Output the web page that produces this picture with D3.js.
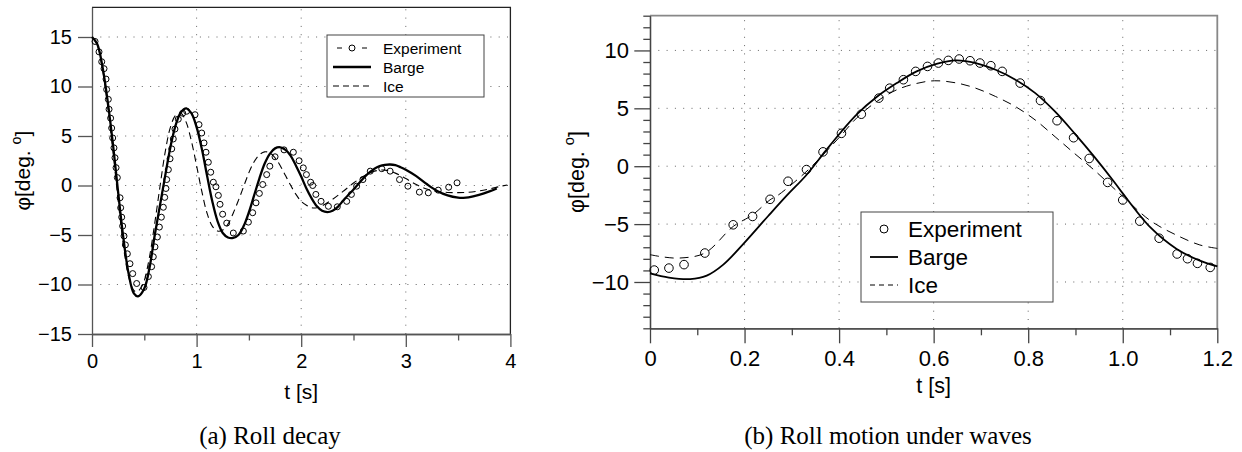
<!DOCTYPE html>
<html>
<head>
<meta charset="utf-8">
<script src="https://cdn.jsdelivr.net/npm/d3@7"></script>
<style>
  html, body { margin: 0; padding: 0; background: #fff; }
  svg { display: block; }
  text { font-family: "Liberation Sans", Arial, Helvetica, sans-serif; fill: #000; }
  .cap { font-family: "Liberation Serif", "Times New Roman", serif; }
</style>
</head>
<body>
<svg id="fig" width="1242" height="452"></svg>
<script>
// ---------------- DATA ----------------
// (a) Roll decay
const decayXTicks = [0, 1, 2, 3, 4];
const decayXMinor = [0.5, 1.5, 2.5, 3.5];
const decayYTicks = [-15, -10, -5, 0, 5, 10, 15];
const decayExperiment = [
  [0.029,14.55],[0.067,13.5],[0.093,12.5],[0.115,11.8],[0.134,10.75],[0.140,9.7],[0.156,8.7],[0.163,7.7],
  [0.178,6.8],[0.188,5.8],[0.198,4.8],[0.210,3.8],[0.220,2.8],[0.230,1.8],[0.242,0.8],[0.268,-1.24],
  [0.274,-2.25],[0.284,-3.2],[0.293,-4.1],[0.306,-5.1],[0.319,-6.0],[0.338,-6.9],[0.363,-7.9],[0.389,-8.9],
  [0.427,-9.9],[0.497,-10.3],[0.539,-9.2],[0.570,-8.2],[0.586,-7.2],[0.602,-6.2],[0.625,-5.2],[0.644,-4.2],
  [0.663,-3.2],[0.682,-2.2],[0.695,-1.2],[0.707,-0.3],[0.714,0.6],[0.730,1.6],[0.746,2.7],[0.762,3.7],
  [0.777,4.7],[0.793,5.7],[0.825,6.7],[0.867,7.3],[0.905,7.5],[0.985,7.15],[1.023,6.15],[1.049,5.3],
  [1.071,4.3],[1.090,3.36],[1.112,2.35],[1.135,1.34],[1.160,0.33],[1.185,-0.13],[1.208,-1.0],[1.224,-1.9],
  [1.249,-2.9],[1.288,-3.8],[1.351,-4.8],[1.447,-4.6],[1.495,-3.7],[1.536,-2.75],[1.568,-1.75],[1.600,-0.8],
  [1.632,0.1],[1.670,1.1],[1.700,1.95],[1.750,2.9],[1.836,3.6],[1.925,3.36],[1.980,2.5],[2.020,1.78],
  [2.050,1.1],[2.090,0.33],[2.110,0.0],[2.140,-0.9],[2.190,-1.6],[2.260,-2.1],[2.345,-2.15],[2.435,-1.6],
  [2.480,-0.9],[2.530,-0.07],[2.590,0.6],[2.660,1.45],[2.770,1.7],[2.850,1.45],[2.940,0.6],[3.020,-0.07],
  [3.130,-0.67],[3.215,-0.74],[3.310,-0.47],[3.410,-0.17],[3.490,0.27]
];
const decayBarge = [
  [0,15],[0.05,14.3],[0.1,12.0],[0.15,8.5],[0.2,4.2],[0.25,-0.7],[0.3,-5.3],[0.35,-8.9],[0.4,-10.9],
  [0.44,-11.2],[0.5,-10.4],[0.55,-8.3],[0.6,-5.0],[0.65,-2.0],[0.7,1.0],[0.75,3.9],[0.8,6.1],[0.85,7.4],
  [0.9,7.8],[0.95,7.3],[1.0,5.9],[1.05,3.7],[1.1,1.0],[1.15,-1.6],[1.2,-3.6],[1.25,-4.8],[1.3,-5.25],
  [1.35,-5.3],[1.4,-5.0],[1.45,-4.1],[1.5,-2.7],[1.55,-1.0],[1.6,0.7],[1.65,2.2],[1.7,3.2],[1.75,3.75],
  [1.8,3.86],[1.85,3.6],[1.9,3.0],[1.95,2.0],[2.0,0.9],[2.05,-0.3],[2.1,-1.3],[2.15,-2.1],[2.2,-2.55],
  [2.25,-2.68],[2.3,-2.55],[2.35,-2.15],[2.4,-1.55],[2.45,-0.95],[2.5,-0.4],[2.55,0.2],[2.6,0.8],
  [2.65,1.3],[2.7,1.7],[2.75,1.95],[2.8,2.08],[2.85,2.12],[2.9,2.05],[2.95,1.85],[3.0,1.6],[3.1,0.95],
  [3.2,0.15],[3.3,-0.55],[3.4,-1.0],[3.5,-1.23],[3.55,-1.25],[3.6,-1.2],[3.7,-0.95],[3.8,-0.6],[3.87,-0.3]
];
const decayIce = [
  [0,15],[0.05,14.2],[0.1,11.8],[0.15,8.0],[0.2,3.5],[0.25,-1.5],[0.3,-6.0],[0.35,-9.2],[0.4,-10.6],
  [0.43,-10.75],[0.47,-10.3],[0.5,-9.6],[0.55,-7.2],[0.6,-3.8],[0.65,-0.1],[0.7,3.4],[0.75,5.9],[0.8,7.1],
  [0.85,7.3],[0.9,6.4],[0.95,4.5],[1.0,2.0],[1.05,-0.6],[1.1,-2.8],[1.15,-4.1],[1.2,-4.6],[1.25,-4.5],
  [1.3,-3.9],[1.35,-2.8],[1.4,-1.5],[1.45,-0.1],[1.5,1.3],[1.55,2.4],[1.6,3.1],[1.65,3.4],[1.7,3.3],
  [1.75,2.8],[1.8,2.0],[1.85,1.0],[1.9,0.0],[1.95,-0.9],[2.0,-1.6],[2.05,-2.0],[2.1,-2.25],[2.15,-2.25],
  [2.2,-2.05],[2.3,-1.4],[2.4,-0.6],[2.5,0.25],[2.6,0.95],[2.7,1.45],[2.8,1.55],[2.9,1.25],[3.0,0.7],
  [3.1,0.1],[3.2,-0.35],[3.3,-0.6],[3.4,-0.7],[3.5,-0.72],[3.6,-0.68],[3.7,-0.55],[3.8,-0.35],[3.9,-0.1],[3.97,0.05]
];

// (b) Roll motion under waves
const wavesXTicks = [0, 0.2, 0.4, 0.6, 0.8, 1.0, 1.2];
const wavesXTickLabels = ["0", "0.2", "0.4", "0.6", "0.8", "1.0", "1.2"];
const wavesXMinor = [0.1, 0.3, 0.5, 0.7, 0.9, 1.1];
const wavesYTicks = [-10, -5, 0, 5, 10];
const wavesYMinor = [-14,-13,-12,-11,-9,-8,-7,-6,-4,-3,-2,-1,1,2,3,4,6,7,8,9,11,12,13];
const wavesExperiment = [
  [0.009,-8.97],[0.04,-8.8],[0.072,-8.5],[0.116,-7.5],[0.176,-5.06],[0.217,-4.34],[0.254,-2.86],
  [0.292,-1.3],[0.331,-0.29],[0.366,1.24],[0.405,2.84],[0.447,4.49],[0.484,5.88],[0.507,6.74],
  [0.536,7.47],[0.562,8.19],[0.587,8.62],[0.61,8.91],[0.631,9.14],[0.654,9.26],[0.677,9.11],
  [0.698,8.91],[0.721,8.68],[0.745,8.19],[0.783,7.18],[0.826,5.67],[0.861,3.93],[0.896,2.46],
  [0.929,0.67],[0.968,-1.4],[1.0,-2.92],[1.036,-4.75],[1.077,-6.22],[1.115,-7.58],[1.137,-7.99],
  [1.158,-8.39],[1.185,-8.74]
];
const wavesBarge = [
  [0,-9.26],[0.04,-9.62],[0.085,-9.75],[0.12,-9.45],[0.155,-8.5],[0.2,-6.6],[0.25,-4.3],[0.29,-2.5],
  [0.33,-0.8],[0.371,1.3],[0.405,3.0],[0.438,4.5],[0.48,6.0],[0.522,7.18],[0.564,8.19],[0.606,8.83],
  [0.647,9.14],[0.689,8.91],[0.731,8.33],[0.773,7.47],[0.815,6.31],[0.857,4.71],[0.898,2.84],
  [0.94,0.81],[0.982,-1.36],[1.0,-2.35],[1.058,-5.27],[1.114,-7.15],[1.163,-8.16],[1.2,-8.65]
];
const wavesIce = [
  [0,-7.64],[0.03,-7.85],[0.063,-7.93],[0.116,-7.5],[0.176,-5.2],[0.217,-4.2],[0.254,-2.9],[0.271,-2.5],
  [0.33,-0.49],[0.371,1.2],[0.405,2.7],[0.438,4.2],[0.48,5.6],[0.522,6.6],[0.564,7.15],[0.602,7.38],
  [0.647,7.2],[0.689,6.74],[0.731,6.02],[0.773,5.15],[0.815,3.99],[0.857,2.54],[0.898,1.1],[0.94,-0.35],
  [0.982,-1.94],[1.0,-2.6],[1.058,-4.69],[1.114,-5.96],[1.163,-6.8],[1.2,-7.1]
];

const legendNames = ["Experiment", "Barge", "Ice"];

// ---------------- DRAWING ----------------
const svg = d3.select("#fig");

function panel(cfg) {
  const g = svg.append("g");
  const x = d3.scaleLinear().domain(cfg.xDomain).range(cfg.xRange);
  const y = d3.scaleLinear().domain(cfg.yDomain).range(cfg.yRange);
  const [x0, x1] = cfg.xRange, [y0, y1] = cfg.yRange; // y0 bottom, y1 top

  // grid
  const grid = g.append("g").attr("stroke", "#666").attr("stroke-width", 1)
    .attr("stroke-dasharray", "1 7.3").attr("fill", "none");
  grid.selectAll("line.gx").data(cfg.gridX).enter().append("line")
    .attr("x1", d => x(d)).attr("x2", d => x(d)).attr("y1", y0).attr("y2", y1);
  grid.selectAll("line.gy").data(cfg.gridY).enter().append("line")
    .attr("y1", d => y(d)).attr("y2", d => y(d)).attr("x1", x0).attr("x2", x1);

  // frame (top/right)
  g.append("path").attr("d", `M${x0},${y1}H${x1}V${y0}`).attr("fill", "none")
    .attr("stroke", cfg.frameColor).attr("stroke-width", cfg.frameWidth);

  // axes
  const xa = g.append("g").attr("transform", `translate(0,${y0})`)
    .call(d3.axisBottom(x).tickValues(cfg.xTicks).tickSize(cfg.majorX).tickSizeOuter(0)
      .tickPadding(cfg.padX).tickFormat((d, i) => cfg.xLabels ? cfg.xLabels[i] : d3.format("")(d)));
  const xm = g.append("g").attr("transform", `translate(0,${y0})`)
    .call(d3.axisBottom(x).tickValues(cfg.xMinor).tickSize(cfg.minorX).tickSizeOuter(0).tickFormat(() => ""));
  const ya = g.append("g").attr("transform", `translate(${x0},0)`)
    .call(d3.axisLeft(y).tickValues(cfg.yTicks).tickSize(cfg.majorY).tickSizeOuter(0).tickPadding(cfg.padY));
  if (cfg.yMinor) {
    g.append("g").attr("transform", `translate(${x0},0)`)
      .call(d3.axisLeft(y).tickValues(cfg.yMinor).tickSize(cfg.minorY).tickSizeOuter(0).tickFormat(() => ""));
  }
  g.selectAll(".domain").attr("stroke", cfg.axisColor).attr("stroke-width", cfg.axisWidth);
  g.selectAll(".tick line").attr("stroke", cfg.axisColor).attr("stroke-width", cfg.axisWidth);
  g.selectAll(".tick text").attr("font-size", cfg.tickFont)
    .attr("font-family", '"Liberation Sans", Arial, Helvetica, sans-serif').attr("fill", "#000");

  // curves
  const line = d3.line().x(d => x(d[0])).y(d => y(d[1])).curve(d3.curveCatmullRom.alpha(0.5));
  g.append("path").datum(cfg.ice).attr("d", line).attr("fill", "none").attr("stroke", "#000")
    .attr("stroke-width", cfg.iceWidth).attr("stroke-dasharray", cfg.iceDash);
  g.append("path").datum(cfg.barge).attr("d", line).attr("fill", "none").attr("stroke", "#000")
    .attr("stroke-width", cfg.bargeWidth);
  g.append("g").selectAll("circle").data(cfg.exp).enter().append("circle")
    .attr("cx", d => x(d[0])).attr("cy", d => y(d[1])).attr("r", cfg.r)
    .attr("fill", "none").attr("stroke", "#000").attr("stroke-width", 1);

  // labels
  g.append("text").attr("x", (x0 + x1) / 2).attr("y", cfg.xLabelY).attr("text-anchor", "middle")
    .attr("font-size", cfg.labelFont).text("t [s]");
  const yl = g.append("text").attr("transform", `translate(${cfg.yLabelX},${(y0 + y1) / 2}) rotate(-90)`)
    .attr("text-anchor", "middle").attr("font-size", cfg.labelFont);
  yl.append("tspan").text("φ[deg. ");
  yl.append("tspan").attr("font-size", cfg.labelFont * 0.68).attr("dy", -cfg.labelFont * 0.45).text("o");
  yl.append("tspan").attr("dy", cfg.labelFont * 0.45).text("]");

  g.append("text").attr("class", "cap").attr("x", cfg.capX).attr("y", 444).attr("text-anchor", "middle")
    .attr("font-size", 25).text(cfg.caption);

  // legend
  const L = cfg.legend;
  const lg = g.append("g");
  lg.append("rect").attr("x", L.x).attr("y", L.y).attr("width", L.w).attr("height", L.h)
    .attr("fill", "#fff").attr("stroke", "#444").attr("stroke-width", 1);
  legendNames.forEach((name, i) => {
    const cy = L.rowY[i];
    if (i === 0) {
      if (L.expDashes) {
        lg.append("line").attr("x1", L.lx0 + 4).attr("x2", L.lx0 + 9).attr("y1", cy).attr("y2", cy).attr("stroke", "#000");
        lg.append("line").attr("x1", L.lx1 - 9).attr("x2", L.lx1 - 4).attr("y1", cy).attr("y2", cy).attr("stroke", "#000");
      }
      lg.append("circle").attr("cx", (L.lx0 + L.lx1) / 2).attr("cy", cy).attr("r", L.r)
        .attr("fill", "none").attr("stroke", "#000");
    } else if (i === 1) {
      lg.append("line").attr("x1", L.lx0).attr("x2", L.lx1).attr("y1", cy).attr("y2", cy)
        .attr("stroke", "#000").attr("stroke-width", cfg.bargeWidth);
    } else {
      lg.append("line").attr("x1", L.lx0).attr("x2", L.lx1).attr("y1", cy).attr("y2", cy)
        .attr("stroke", "#000").attr("stroke-width", cfg.iceWidth).attr("stroke-dasharray", L.dash);
    }
    lg.append("text").attr("x", L.tx).attr("y", cy).attr("dy", "0.36em").attr("font-size", L.font).text(name);
  });
}

panel({
  xDomain: [0, 4], xRange: [92, 510.4], yDomain: [-15, 18], yRange: [334, 7.3],
  xTicks: decayXTicks, xMinor: decayXMinor, yTicks: decayYTicks, yMinor: null,
  gridX: [1, 2, 3], gridY: [-10, -5, 0, 5, 10, 15],
  majorX: 13, minorX: 6.5, majorY: 14, padX: 7, padY: 6, tickFont: 20,
  axisColor: "#555", axisWidth: 1.3, frameColor: "#222", frameWidth: 1.3,
  exp: decayExperiment, barge: decayBarge, ice: decayIce, r: 3,
  bargeWidth: 2.3, iceWidth: 1.1, iceDash: "7 4.5",
  labelFont: 21, xLabelY: 399, yLabelX: 30, capX: 270, caption: "(a) Roll decay",
  legend: { x: 327, y: 35, w: 157, h: 62, rowY: [48, 67, 86], lx0: 333, lx1: 371, tx: 383,
    font: 15.5, r: 3, dash: "6 4", expDashes: true }
});

panel({
  xDomain: [0, 1.2], xRange: [650, 1217.3], yDomain: [-14, 13], yRange: [328.3, 15.7],
  xTicks: wavesXTicks, xLabels: wavesXTickLabels, xMinor: wavesXMinor, yTicks: wavesYTicks, yMinor: wavesYMinor,
  gridX: [0.2, 0.4, 0.6, 0.8, 1.0], gridY: [-10, -5, 0, 5, 10],
  majorX: 15, minorX: 7, majorY: 15.7, minorY: 6.7, padX: 7, padY: 5.3, tickFont: 22,
  axisColor: "#444", axisWidth: 1.3, frameColor: "#888", frameWidth: 1.8,
  exp: wavesExperiment, barge: wavesBarge, ice: wavesIce, r: 4.3,
  bargeWidth: 1.8, iceWidth: 1, iceDash: "9 6",
  labelFont: 21.5, xLabelY: 393, yLabelX: 584, capX: 888, caption: "(b) Roll motion under waves",
  legend: { x: 861, y: 212, w: 192, h: 90, rowY: [229, 257, 285], lx0: 870, lx1: 898, tx: 908,
    font: 22.5, r: 4, dash: "5 4", expDashes: false }
});
</script>
</body>
</html>
